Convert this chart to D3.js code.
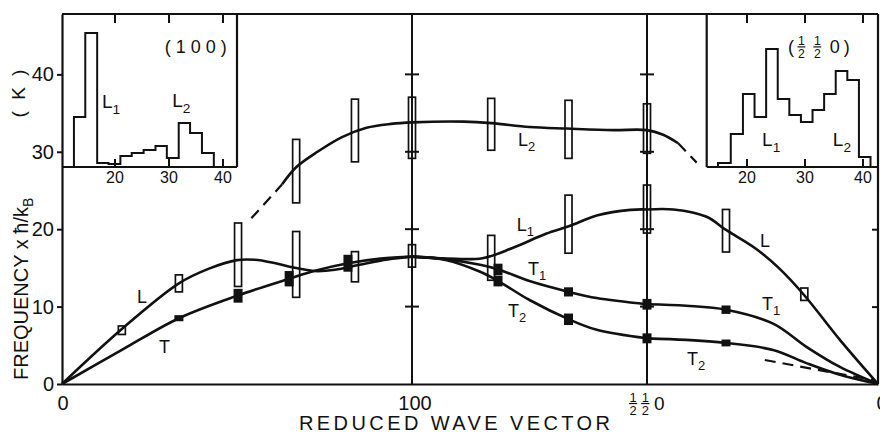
<!DOCTYPE html>
<html><head><meta charset="utf-8">
<script src="https://cdn.jsdelivr.net/npm/d3@7/dist/d3.min.js"></script>
<style>
html,body{margin:0;padding:0;background:#fff;}
svg{display:block;}
text{font-family:"Liberation Sans",Arial,Helvetica,sans-serif;fill:#111;}
</style></head><body>
<svg id="chart" width="880" height="435"></svg>
<script>
// ================= DATA =================
// x positions are along the path  Γ(0) – (100)(1) – (½½0)(2) – Γ(3)
const xTickValues = [0, 1, 2, 3];
const xTickLabels = ["0", "100", "½½0", "0"];
const yTickValues = [0, 10, 20, 30, 40];

// dispersion curves [path position, frequency in K]
const curveL_GX  = [[0,0],[0.171,7.1],[0.334,13.0],[0.42,14.9],[0.50,16.0],[0.55,16.05],[0.60,15.7],[0.65,15.15],[0.72,14.6],[0.78,14.75],[0.85,15.4],[0.93,16.1],[1,16.45]];
const curveT_GX  = [[0,0],[0.171,4.4],[0.334,8.5],[0.503,11.45],[0.649,13.6],[0.72,14.6],[0.817,15.6],[0.91,16.2],[1,16.45]];
const curveL2    = [[0.629,25.8],[0.669,28.0],[0.73,30.0],[0.80,31.9],[0.87,33.1],[0.94,33.6],[1,33.8],[1.22,33.9],[1.34,33.7],[1.5,33.2],[1.66,33.0],[1.855,32.8],[2,32.8],[2.07,32.2],[2.135,31.1]];
const curveL2DashA = [[0.541,21.4],[0.629,25.8]];
const curveL2DashB = [[2.135,31.1],[2.215,28.6]];
const curveL1    = [[1,16.45],[1.15,16.2],[1.3,16.25],[1.43,17.6],[1.57,19.4],[1.67,20.4],[1.79,21.8],[1.93,22.5],[2,22.55]];
const curveT1_XM = [[1,16.45],[1.148,16.1],[1.29,15.4],[1.367,14.8],[1.5,13.3],[1.668,11.9],[1.786,11.1],[2,10.3]];
const curveT2_XM = [[1,16.45],[1.148,16.0],[1.29,14.5],[1.367,13.3],[1.5,10.85],[1.668,8.35],[1.786,7.0],[2,5.9]];
const curveL_MG  = [[2,22.55],[2.115,22.55],[2.258,21.6],[2.342,19.9],[2.47,17.5],[2.57,15.0],[2.68,11.5],[2.835,5.7],[3,0]];
const curveT1_MG = [[2,10.3],[2.17,10.1],[2.342,9.6],[2.546,7.8],[2.69,4.8],[2.835,2.2],[3,0]];
const curveT2_MG = [[2,5.9],[2.17,5.7],[2.342,5.3],[2.546,4.4],[2.69,2.7],[2.835,1.2],[3,0]];
const curveT2Dash = [[2.51,3.1],[2.98,0.5]];

// measured points [path position, frequency, half error]
const openPoints = [
  [0.171,6.95,0.55],[0.334,13.0,1.1],[0.503,16.7,4.1],[0.669,15.45,4.25],[0.837,15.15,1.95],[1,16.55,1.45],
  [0.669,27.5,4.1],[0.837,32.75,4.05],[1,33.1,3.95],[1.337,33.55,3.35],[1.666,32.9,3.75],[2,33.0,3.2],
  [1.337,16.3,2.9],[1.666,20.65,3.75],[2,22.6,3.1],
  [2.342,19.8,2.75],[2.681,11.6,0.8]
];
const filledPoints = [
  [0.334,8.5,0.2],[0.503,11.4,0.7],[0.649,13.6,0.8],[0.817,15.6,0.9],
  [1.366,14.8,0.55],[1.366,13.3,0.5],[1.666,11.9,0.4],[1.666,8.36,0.55],
  [2,10.3,0.5],[2,5.9,0.45],[2.342,9.6,0.35],[2.342,5.3,0.25]
];

// inset histograms (frequency bin edges in K, counts in arbitrary units)
const inset100Edges  = [12.4,14.5,16.7,18.8,21.0,23.1,25.3,27.5,29.6,31.8,33.9,36.1,38.3];
const inset100Counts = [50,134,4,3,11,14,17,21,9,44,34,14];
const insetHHEdges   = [15.0,17.2,19.3,21.3,23.3,25.3,27.3,29.3,31.3,33.3,35.3,37.3,39.3,41.3];
const insetHHCounts  = [4,33,73,50,118,68,52,45,57,73,96,87,10];
const insetTickValues = [20, 30, 40];

// ================= LAYOUT =================
const svg = d3.select("#chart");
const P = {left:62, right:878, top:14, bottom:384};
const segW = [350, 235, 231];            // drawn widths of the three path segments
const tot = d3.sum(segW);
const xr = [0, segW[0], segW[0]+segW[1], tot].map(v => P.left + v/tot*(P.right-P.left));
const x = d3.scaleLinear().domain(xTickValues).range(xr);
const y = d3.scaleLinear().domain([0, 47.8]).range([P.bottom, P.top]);
const ink = "#111";

// insets
const insetBottom = 167;
const cy = d3.scaleLinear().domain([0,153]).range([insetBottom, P.top]);
const insets = [
  {x0:P.left, x1:237, fdom:[10.19,42.59], edges:inset100Edges, counts:inset100Counts, side:"left"},
  {x0:706.7, x1:P.right, fdom:[13.05,42.59], edges:insetHHEdges, counts:insetHHCounts, side:"right"}
];

insets.forEach(ins => {
  const fx = d3.scaleLinear().domain(ins.fdom).range([ins.x0, ins.x1]);
  ins.fx = fx;
  const g = svg.append("g");
  g.append("rect").attr("x",ins.x0).attr("y",P.top).attr("width",ins.x1-ins.x0).attr("height",insetBottom-P.top).attr("fill","#fff");
  const sx = ins.side==="left" ? ins.x1 : ins.x0;
  g.append("line").attr("x1",ins.x0).attr("x2",ins.x1).attr("y1",insetBottom).attr("y2",insetBottom).attr("stroke",ink).attr("stroke-width",2.2);
  g.append("line").attr("x1",sx).attr("x2",sx).attr("y1",P.top).attr("y2",insetBottom).attr("stroke",ink).attr("stroke-width",2.2);
  insetTickValues.forEach(t => {
    g.append("line").attr("x1",fx(t)).attr("x2",fx(t)).attr("y1",insetBottom).attr("y2",insetBottom-8).attr("stroke",ink).attr("stroke-width",2);
    g.append("line").attr("x1",fx(t)).attr("x2",fx(t)).attr("y1",P.top).attr("y2",P.top+9).attr("stroke",ink).attr("stroke-width",2);
    g.append("text").attr("x",fx(t)).attr("y",insetBottom+16).attr("text-anchor","middle").attr("font-size",16).text(t);
  });
  const pts = [[ins.edges[0],0]];
  ins.counts.forEach((c,i) => pts.push([ins.edges[i], c]));
  pts.push([ins.edges[ins.edges.length-1], 0]);
  g.append("path").attr("d", d3.line().x(d=>fx(d[0])).y(d=>cy(d[1])).curve(d3.curveStepAfter)(pts))
    .attr("fill","none").attr("stroke",ink).attr("stroke-width",2);
});

// mixed text with stacked ½
function mixedText(parent, str, x0, y0, size, anchor, gap) {
  const g = parent.append("g");
  let cx = 0;
  for (const ch of str) {
    if (ch === "½") {
      const fs = size*0.68, w = fs*0.56;
      g.append("text").attr("x",cx+w/2).attr("y",-size*0.42).attr("text-anchor","middle").attr("font-size",fs).text("1");
      g.append("text").attr("x",cx+w/2).attr("y",size*0.28).attr("text-anchor","middle").attr("font-size",fs).text("2");
      g.append("line").attr("x1",cx-0.5).attr("x2",cx+w+0.5).attr("y1",-size*0.34).attr("y2",-size*0.34).attr("stroke",ink).attr("stroke-width",1.2);
      cx += w + gap;
    } else if (ch === " ") {
      cx += size*0.28;
    } else {
      const t = g.append("text").attr("x",cx).attr("y",0).attr("font-size",size).text(ch);
      cx += t.node().getComputedTextLength() + gap;
    }
  }
  cx -= gap;
  const shift = anchor==="middle" ? -cx/2 : anchor==="end" ? -cx : 0;
  g.attr("transform",`translate(${x0+shift},${y0})`);
  return g;
}

// inset titles and labels
svg.append("text").attr("x",insets[0].fx(35.4)).attr("y",53).attr("text-anchor","middle")
   .attr("font-size",18).attr("letter-spacing",5).text("(100)");
mixedText(svg, "(½ ½ 0)", insets[1].fx(32.4), 53, 18, "middle", 4);

function subLabel(parent, px, py, main, sub, size) {
  const t = parent.append("text").attr("x",px).attr("y",py).attr("font-size",size);
  t.append("tspan").text(main);
  t.append("tspan").attr("font-size",size*0.72).attr("dy",size*0.3).text(sub);
  return t;
}
subLabel(svg, insets[0].fx(17.6), cy(59), "L", "1", 19);
subLabel(svg, insets[0].fx(30.6), cy(60), "L", "2", 19);
subLabel(svg, insets[1].fx(22.6), cy(21), "L", "1", 19);
subLabel(svg, insets[1].fx(34.8), cy(21), "L", "2", 19);

// frame
const frame = svg.append("g");
frame.append("line").attr("x1",P.left).attr("x2",P.right).attr("y1",P.top).attr("y2",P.top).attr("stroke",ink).attr("stroke-width",2.2);
frame.append("line").attr("x1",P.right).attr("x2",P.right).attr("y1",P.top).attr("y2",P.bottom).attr("stroke",ink).attr("stroke-width",2.2);

const yAxis = svg.append("g").attr("transform",`translate(${P.left},0)`)
  .call(d3.axisLeft(y).tickValues(yTickValues).tickSize(5).tickSizeOuter(0).tickPadding(3));
yAxis.attr("font-family",null);
yAxis.select(".domain").attr("stroke",ink).attr("stroke-width",2.2);
yAxis.selectAll(".tick line").attr("stroke",ink).attr("stroke-width",2);
yAxis.selectAll(".tick text").attr("font-size",20).attr("fill",ink);

const rAxis = svg.append("g").attr("transform",`translate(${P.right},0)`)
  .call(d3.axisLeft(y).tickValues([10,20]).tickSize(6).tickSizeOuter(0).tickFormat(""));
rAxis.select(".domain").remove();
rAxis.selectAll(".tick line").attr("stroke",ink).attr("stroke-width",2);

const xAxis = svg.append("g").attr("transform",`translate(0,${P.bottom})`)
  .call(d3.axisBottom(x).tickValues(xTickValues).tickSize(0).tickSizeOuter(0).tickFormat(""));
xAxis.select(".domain").attr("stroke",ink).attr("stroke-width",2.2);
xTickValues.forEach((v,i) => {
  const lab = xTickLabels[i];
  if (lab.includes("½")) mixedText(svg, lab, x(v), 410, 19, "middle", 5);
  else svg.append("text").attr("x",x(v)+(i===1?3:(i===3?4:1))).attr("y",410).attr("text-anchor","middle").attr("font-size",20).text(lab);
});

// symmetry-point vertical lines with crossbars
[1,2].forEach(v => {
  svg.append("line").attr("x1",x(v)).attr("x2",x(v)).attr("y1",P.top).attr("y2",P.bottom).attr("stroke",ink).attr("stroke-width",2);
  [10,20,30,40].forEach(t => {
    svg.append("line").attr("x1",x(v)-7).attr("x2",x(v)+7).attr("y1",y(t)).attr("y2",y(t)).attr("stroke",ink).attr("stroke-width",2);
  });
});

// axis titles
svg.append("text").attr("transform","translate(28,380) rotate(-90)").attr("font-size",20)
  .call(t => { t.append("tspan").text("FREQUENCY  x ħ/k"); t.append("tspan").attr("font-size",14).attr("dy",5).text("B"); });
svg.append("text").attr("transform","translate(25,92) rotate(-90)").attr("text-anchor","middle").attr("font-size",19)
  .attr("letter-spacing",3).text("( K )");
svg.append("text").attr("x",299).attr("y",430).attr("font-size",20).attr("textLength",311).attr("lengthAdjust","spacing")
  .text("REDUCED WAVE VECTOR");

// curves
const line = d3.line().x(d=>x(d[0])).y(d=>y(d[1])).curve(d3.curveCatmullRom.alpha(0.5));
const solid = [curveL_GX, curveT_GX, curveL2, curveL1, curveT1_XM, curveT2_XM, curveL_MG, curveT1_MG, curveT2_MG];
svg.append("g").selectAll("path").data(solid).join("path").attr("d",line)
  .attr("fill","none").attr("stroke",ink).attr("stroke-width",2.6).attr("stroke-linejoin","round");
svg.append("g").selectAll("path").data([curveL2DashA, curveL2DashB, curveT2Dash]).join("path")
  .attr("d",d3.line().x(d=>x(d[0])).y(d=>y(d[1])))
  .attr("fill","none").attr("stroke",ink).attr("stroke-width",2.2).attr("stroke-dasharray","11,7");

// markers
svg.append("g").selectAll("rect").data(openPoints).join("rect")
  .attr("x",d=>x(d[0])-3.5).attr("width",7)
  .attr("y",d=>y(d[1]+d[2])).attr("height",d=>y(d[1]-d[2])-y(d[1]+d[2]))
  .attr("fill","none").attr("stroke",ink).attr("stroke-width",1.7);
svg.append("g").selectAll("rect").data(filledPoints).join("rect")
  .attr("x",d=>x(d[0])-4.5).attr("width",9)
  .attr("y",d=>y(d[1]+d[2])-1.5).attr("height",d=>y(d[1]-d[2])-y(d[1]+d[2])+3)
  .attr("fill",ink);

// curve labels [path position, frequency, main, sub]
const curveLabels = [
  [0.214,10.45,"L",""],[0.277,4.0,"T",""],
  [1.451,30.75,"L","2"],[1.446,19.8,"L","1"],[1.494,14.1,"T","1"],[1.409,8.65,"T","2"],
  [2.489,17.7,"L",""],[2.498,9.55,"T","1"],[2.173,2.45,"T","2"]
];
curveLabels.forEach(d => subLabel(svg, x(d[0]), y(d[1]), d[2], d[3], 18));
</script>
</body></html>
